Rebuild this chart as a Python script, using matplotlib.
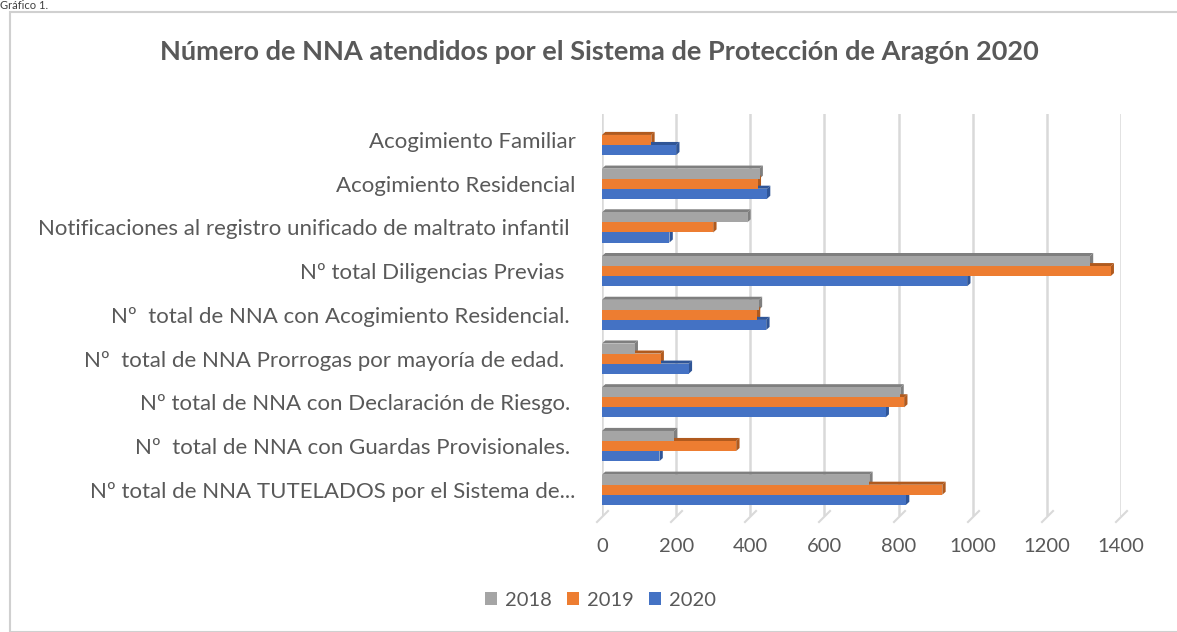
import matplotlib.pyplot as plt
import numpy as np
from matplotlib.patches import Rectangle

plt.rcParams['font.family'] = ['Lato', 'DejaVu Sans']

categorias = [
    "Acogimiento Familiar",
    "Acogimiento Residencial",
    "Notificaciones al registro unificado de maltrato infantil ",
    "Nº total Diligencias Previas  ",
    "Nº  total de NNA con Acogimiento Residencial. ",
    "Nº  total de NNA Prorrogas por mayoría de edad.  ",
    "Nº total de NNA con Declaración de Riesgo. ",
    "Nº  total de NNA con Guardas Provisionales. ",
    "Nº total de NNA TUTELADOS por el Sistema de...",
]
anios = ["2018", "2019", "2020"]
v2018 = [0, 425, 392, 1316, 423, 88, 805, 194, 721]
v2019 = [133, 420, 300, 1372, 418, 158, 815, 362, 918]
v2020 = [200, 445, 182, 985, 443, 234, 765, 155, 820]

colores = ["#A5A5A5", "#ED7D31", "#4472C4"]
laterales = ["#7F7F7F", "#B05A1E", "#2F5597"]
gris_texto = "#595959"

fig = plt.figure(figsize=(11.77, 6.32), dpi=100)
ax = fig.add_axes([602 / 1177, 1 - 516 / 632, 519 / 1177, (516 - 113.75) / 632])

y = np.arange(len(categorias))
h = 0.23
dx, dy = 9, 0.07  # fondo del efecto 3D

for k, (vals, c, cl) in enumerate(zip([v2018, v2019, v2020], colores, laterales)):
    yy = y + (k - 1) * h
    for yi, v in zip(yy, vals):
        if v <= 0:
            continue
        top = yi - h / 2
        # cara superior y lateral de la barra
        ax.fill([0, v, v + dx, dx], [top, top, top - dy, top - dy],
                color=cl, lw=0, zorder=2)
        ax.fill([v, v + dx, v + dx, v], [top, top - dy, top + h - dy, top + h],
                color=cl, lw=0, zorder=2)
    ax.barh(yy, vals, height=h, color=c, zorder=3, label=anios[k])

ax.set_ylim(8.6, -0.6)
ax.set_xlim(0, 1400)
ax.set_xticks(np.arange(0, 1401, 200))
ax.set_yticks(y)
ax.set_yticklabels(categorias)
for s in ax.spines.values():
    s.set_visible(False)
ax.grid(axis='x', color="#D9D9D9", lw=1.8, zorder=0)
ax.set_axisbelow(True)
ax.tick_params(axis='y', length=0, pad=19, labelsize=16, labelcolor=gris_texto)
ax.tick_params(axis='x', length=0, pad=16, labelsize=14.5, labelcolor=gris_texto)

# marcas del suelo
ax.plot(np.arange(0, 1401, 200), [8.6] * 8, ls='none',
        marker=[(-1, -1), (1, 1)], markersize=9, color="#D9D9D9",
        markeredgewidth=1.5, clip_on=False)

fig.text(599 / 1177, 1 - 52 / 632, "Número de NNA atendidos por el Sistema de Protección de Aragón 2020",
         ha='center', va='center', fontsize=19.5, fontweight='bold', color=gris_texto)
fig.text(0.0, 1.0, "Gráfico 1.", ha='left', va='top', fontsize=8, color="#404040")

fig.patches.append(Rectangle((10 / 1177, 0), 1.2, 1 - 12 / 632, transform=fig.transFigure,
                             fill=False, edgecolor="#D0D0D0", lw=1.5))

fig.legend(loc='center', bbox_to_anchor=(0.51, 1 - 600 / 632), ncol=3, frameon=False,
           fontsize=14.5, handlelength=0.6, handleheight=0.6, handletextpad=0.4,
           columnspacing=0.75, labelcolor=gris_texto)

fig.savefig("out.png", dpi=100)
